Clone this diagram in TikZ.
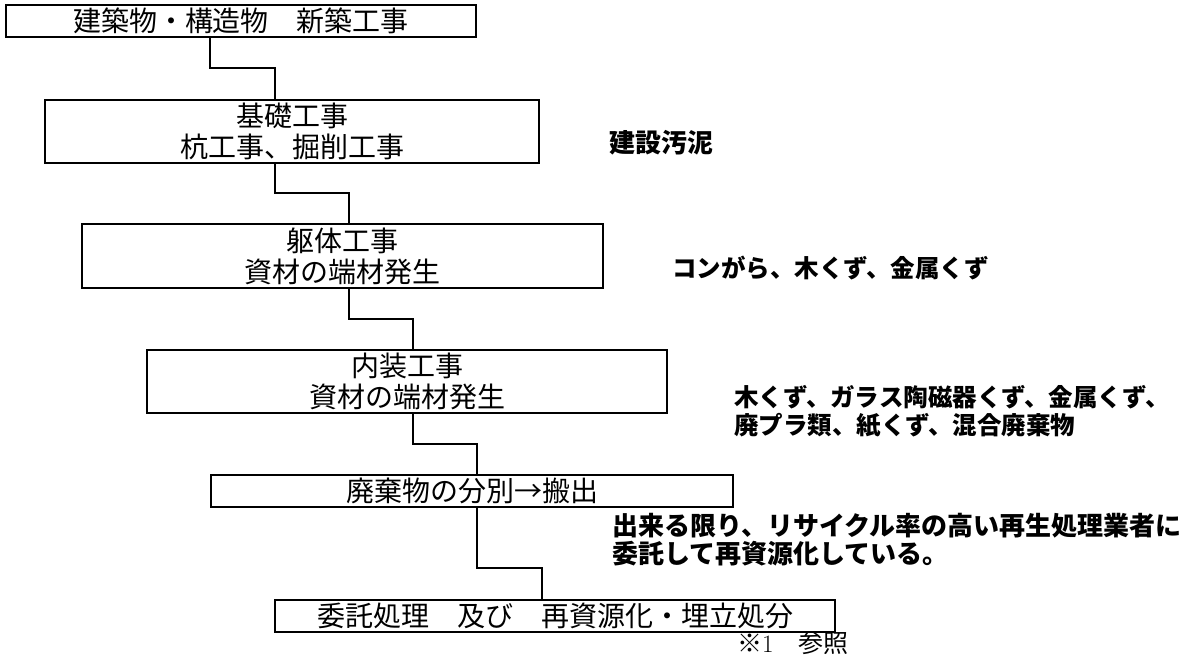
\documentclass[tikz,border=0pt]{standalone}
\usepackage{fontspec}
\newfontfamily\jp{Noto Sans CJK JP}
\begin{document}
\begin{tikzpicture}[x=1pt, y=-1pt, line join=miter,
  stagebox/.style={draw, line width=2.4pt, inner sep=0pt, align=center, font=\jp\fontsize{28}{31}\selectfont},
  note/.style={anchor=west, inner sep=0pt, align=left, font=\jp\bfseries\fontsize{26}{28}\selectfont},
  link/.style={line width=2.2pt}]
\useasboundingbox (0,0) rectangle (1195,661);
% stages
\node[stagebox, minimum width=470, minimum height=32] (b1) at (241,21) {建築物・構造物　新築工事};
\node[stagebox, minimum width=494, minimum height=63] (b2) at (292,131.5) {基礎工事\\杭工事、掘削工事};
\node[stagebox, minimum width=521, minimum height=64] (b3) at (342.5,256) {躯体工事\\資材の端材発生};
\node[stagebox, minimum width=520, minimum height=63] (b4) at (407,381.5) {内装工事\\資材の端材発生};
\node[stagebox, minimum width=522, minimum height=32] (b5) at (472,491) {廃棄物の分別→搬出};
\node[stagebox, minimum width=560, minimum height=32] (b6) at (555,616) {委託処理　及び　再資源化・埋立処分};
% stepped links
\foreach \a/\b/\xs/\xe/\y in {b1/b2/210/275/68, b2/b3/275/349/193, b3/b4/349/413/319, b4/b5/413/477/444, b5/b6/477/542/568} {
  \coordinate (s) at (\xs,\y);
  \coordinate (e) at (\xe,\y);
  \draw[link] (\a.south -| s) -- (s) -- (e) -- (\b.north -| e);
}
% waste notes
\node[note] (n1) at (609,143) {建設汚泥};
\node[note, font=\jp\bfseries\fontsize{24.5}{28}\selectfont] (n2) at (672,268) {コンがら、木くず、金属くず};
\node[note, font=\jp\bfseries\fontsize{24.5}{28}\selectfont] (n3) at (734,411) {木くず、ガラス陶磁器くず、金属くず、\\廃プラ類、紙くず、混合廃棄物};
\node[note] (n4) at (612,540) {出来る限り、リサイクル率の高い再生処理業者に\\委託して再資源化している。};
\node[note, font=\jp\fontsize{25}{28}\selectfont] (n5) at (737,643) {※{\rmfamily 1}　参照};
\end{tikzpicture}
\end{document}
